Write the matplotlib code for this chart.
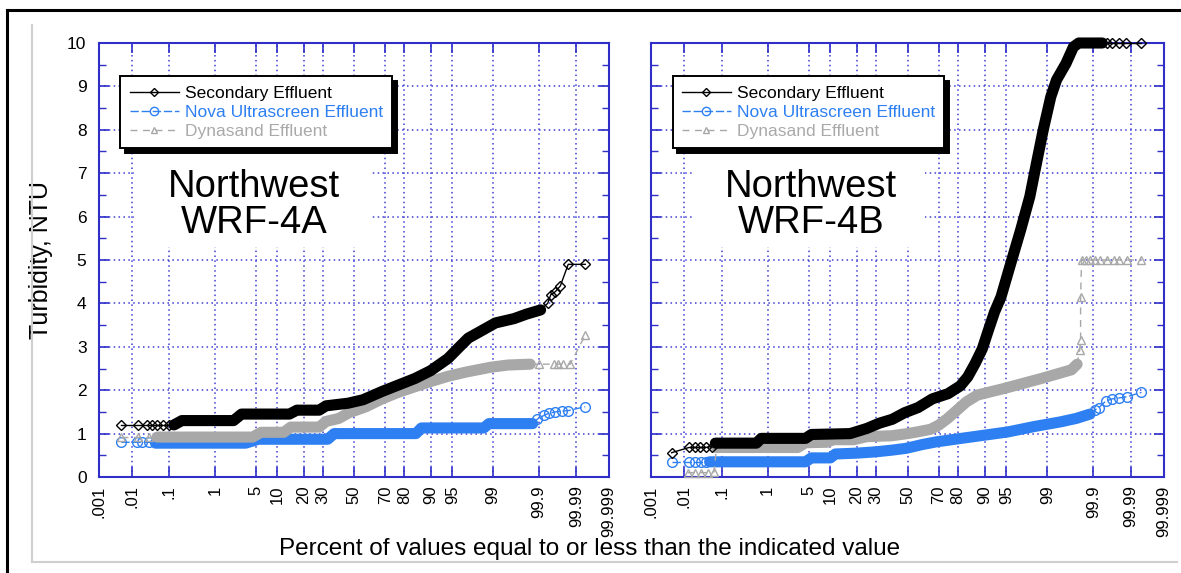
import math
import numpy as np
import matplotlib
matplotlib.use("Agg")
import matplotlib.pyplot as plt
from matplotlib.lines import Line2D
from matplotlib.patches import Rectangle
from matplotlib.ticker import FixedLocator, MultipleLocator, NullLocator

plt.rcParams['font.family'] = ['Liberation Sans', 'DejaVu Sans']

# ---------------- data (percent of values <= value, turbidity NTU) ----------------
x_ticks = [0.001, 0.01, 0.1, 1, 5, 10, 20, 30, 50, 70, 80, 90, 95, 99, 99.9, 99.99, 99.999]
x_tick_labels = [".001", ".01", ".1", "1", "5", "10", "20", "30", "50", "70", "80",
                 "90", "95", "99", "99.9", "99.99", "99.999"]
y_ticks = [0, 1, 2, 3, 4, 5, 6, 7, 8, 9, 10]
series_names = ["Secondary Effluent", "Nova Ultrascreen Effluent", "Dynasand Effluent"]
panel_titles = [("Northwest", "WRF-4A"), ("Northwest", "WRF-4B")]

# Panel A (WRF-4A)
A_sec_pct = [0.005, 0.015, 0.026, 0.036, 0.05, 0.07, 0.1,
             0.13, 0.2, 2.2, 3.0, 14, 17, 28, 32, 46, 56, 68, 76, 84.6, 90, 94.2, 96,
             97.2, 98.3, 99.1, 99.63, 99.8, 99.91,
             99.94, 99.95, 99.962, 99.972, 99.983, 99.9945]
A_sec_ntu = [1.2, 1.2, 1.2, 1.2, 1.2, 1.2, 1.2,
             1.2, 1.3, 1.3, 1.45, 1.45, 1.54, 1.54, 1.64, 1.7, 1.78, 1.97, 2.1, 2.27, 2.45,
             2.73, 2.98, 3.2, 3.36, 3.55, 3.65, 3.75, 3.85,
             4.0, 4.2, 4.27, 4.4, 4.9, 4.9]

A_nova_pct = [0.005, 0.014, 0.02, 0.03,
              0.045, 3.5, 5.5, 33, 37, 85, 87, 98.5, 98.8, 99.86,
              99.89, 99.926, 99.944, 99.962, 99.975, 99.983, 99.9945]
A_nova_ntu = [0.8, 0.8, 0.8, 0.8,
              0.78, 0.78, 0.87, 0.87, 1.0, 1.0, 1.13, 1.13, 1.23, 1.23,
              1.33, 1.42, 1.47, 1.5, 1.52, 1.53, 1.62]

A_dyn_pct = [0.005, 0.015, 0.03,
             0.05, 4.5, 6, 12, 14.5, 28, 32, 40, 46.6, 58, 68, 77, 84.6, 90, 94.2, 97,
             98.9, 99.5, 99.84,
             99.9, 99.958, 99.968, 99.977, 99.985, 99.9945]
A_dyn_ntu = [0.92, 0.92, 0.92,
             0.92, 0.92, 1.03, 1.03, 1.15, 1.15, 1.28, 1.35, 1.48, 1.62, 1.8, 1.95, 2.08,
             2.2, 2.32, 2.42, 2.53, 2.58, 2.6,
             2.6, 2.6, 2.6, 2.6, 2.6, 3.27]

# Panel B (WRF-4B)
B_sec_pct = [0.0044, 0.014, 0.02, 0.028, 0.04, 0.056,
             0.07, 0.6, 0.75, 4.5, 5.5, 17, 25, 32, 40, 48, 57, 66, 75, 81, 84.2, 87,
             89.3, 91.1, 92.6, 94, 95.7, 97, 97.9, 98.4, 98.8, 99.14, 99.34, 99.58,
             99.71, 99.78, 99.94,
             99.955, 99.967, 99.978, 99.986, 99.995]
B_sec_ntu = [0.56, 0.68, 0.68, 0.68, 0.68, 0.7,
             0.78, 0.78, 0.89, 0.89, 0.98, 1.0, 1.12, 1.24, 1.33, 1.48, 1.6, 1.8, 1.92,
             2.1, 2.31, 2.62, 2.95, 3.39, 3.8, 4.15, 4.92, 5.69, 6.46, 7.23, 8.0, 8.76,
             9.15, 9.53, 9.91, 10.0, 10.0,
             10.0, 10.0, 10.0, 10.0, 10.0]

B_nova_pct = [0.0044, 0.014, 0.02, 0.03, 0.04,
              0.05, 4.5, 5.5, 10, 11.5, 20, 30, 40, 49, 60, 68.5, 80, 86.5, 95.3, 98.2,
              99.45, 99.75, 99.88,
              99.91, 99.927, 99.951, 99.967, 99.978, 99.987, 99.995]
B_nova_ntu = [0.35, 0.35, 0.35, 0.35, 0.35,
              0.35, 0.35, 0.44, 0.44, 0.53, 0.55, 0.58, 0.62, 0.66, 0.75, 0.81, 0.88,
              0.93, 1.04, 1.16, 1.27, 1.35, 1.45,
              1.55, 1.6, 1.75, 1.8, 1.82, 1.85, 1.95]

B_dyn_pct = [0.013, 0.02, 0.03, 0.045, 0.065,
             0.075, 3.4, 4.5, 9, 11, 18.6, 25, 39.4, 50, 56.6, 65, 70, 74.8, 80.4, 83.6,
             87.8, 94.6, 98.7, 99.68, 99.76,
             99.79, 99.8, 99.8, 99.81, 99.85, 99.88, 99.91, 99.93, 99.955, 99.97, 99.978,
             99.987, 99.995]
B_dyn_ntu = [0.1, 0.1, 0.1, 0.1, 0.12,
             0.68, 0.68, 0.79, 0.8, 0.86, 0.86, 0.93, 0.95, 1.0, 1.04, 1.1, 1.2, 1.35,
             1.58, 1.73, 1.89, 2.04, 2.27, 2.47, 2.6,
             2.93, 3.16, 4.15, 5.0, 5.0, 5.0, 5.0, 5.0, 5.0, 5.0, 5.0, 5.0, 5.0]

# number of individually visible markers at the start / end of each series
A_counts = {"sec": (7, 6), "nova": (4, 7), "dyn": (3, 6)}
B_counts = {"sec": (6, 5), "nova": (5, 7), "dyn": (5, 13)}

# ---------------- normal probability scale ----------------
_erf = np.vectorize(math.erf, otypes=[float])
_zgrid = np.linspace(-7.0, 7.0, 20001)
_cdf = 0.5 * (1.0 + _erf(_zgrid / math.sqrt(2.0)))


def pct_to_z(p):
    return np.interp(np.asarray(p, float) / 100.0, _cdf, _zgrid)


def z_to_pct(z):
    return 100.0 * 0.5 * (1.0 + _erf(np.asarray(z, float) / math.sqrt(2.0)))


# ---------------- styles ----------------
SPINE = '#2f2fc8'
GRID = '#3d3dd6'
styles = {
    "sec": dict(color='#000000', marker='D', ms=5, ls='-', z=5),
    "nova": dict(color='#2e80f2', marker='o', ms=7, ls=(0, (6, 2)), z=3),
    "dyn": dict(color='#a8a8a8', marker='^', ms=6, ls=(0, (5, 4)), z=4),
}
legend_text_colors = ['#000000', '#2e80f2', '#aaaaaa']


def draw_series(ax, pct, ntu, counts, st):
    pct = np.asarray(pct, float)
    ntu = np.asarray(ntu, float)
    n_head, n_tail = counts
    n = len(pct)
    c = st['color']
    ax.plot(pct[:n_head + 1], ntu[:n_head + 1], color=c, lw=1.0, ls=st['ls'],
            marker=st['marker'], ms=st['ms'], mfc='none', mec=c, mew=1.0,
            markevery=list(range(n_head)), zorder=st['z'], clip_on=False)
    ax.plot(pct[n_head:n - n_tail], ntu[n_head:n - n_tail], color=c, lw=8,
            solid_capstyle='round', solid_joinstyle='round', zorder=st['z'], clip_on=False)
    ax.plot(pct[n - n_tail - 1:], ntu[n - n_tail - 1:], color=c, lw=1.0, ls=st['ls'],
            marker=st['marker'], ms=st['ms'], mfc='none', mec=c, mew=1.0,
            markevery=list(range(1, n_tail + 1)), zorder=st['z'], clip_on=False)


W, H = 1181, 573
fig = plt.figure(figsize=(W / 100, H / 100), dpi=100)
fig.patch.set_facecolor('white')

fig.add_artist(Line2D([7 / W, 7 / W], [0, 1 - 10 / H], color='black', lw=2.2,
                      transform=fig.transFigure))
fig.add_artist(Line2D([7 / W, 1], [1 - 10 / H, 1 - 10 / H], color='black', lw=2.2,
                      transform=fig.transFigure))
fig.add_artist(Line2D([32 / W, 32 / W], [1 - 25 / H, 1 - 562 / H], color='#cfcfcf', lw=1.5,
                      transform=fig.transFigure))
fig.add_artist(Line2D([32 / W, 1177 / W], [1 - 562 / H, 1 - 562 / H], color='#cfcfcf', lw=1.5,
                      transform=fig.transFigure))

panels = [
    dict(left=99, right=609, data=dict(sec=(A_sec_pct, A_sec_ntu), nova=(A_nova_pct, A_nova_ntu),
                                       dyn=(A_dyn_pct, A_dyn_ntu)),
         counts=A_counts, title=panel_titles[0], tx=0.304, box=(0.069, 0.530, 0.464, 0.223)),
    dict(left=651, right=1164, data=dict(sec=(B_sec_pct, B_sec_ntu), nova=(B_nova_pct, B_nova_ntu),
                                         dyn=(B_dyn_pct, B_dyn_ntu)),
         counts=B_counts, title=panel_titles[1], tx=0.312, box=(0.080, 0.530, 0.455, 0.223)),
]

top, bottom = 43, 477
for i, p in enumerate(panels):
    ax = fig.add_axes([p['left'] / W, 1 - bottom / H, (p['right'] - p['left']) / W,
                       (bottom - top) / H])
    ax.set_xscale('function', functions=(pct_to_z, z_to_pct))
    ax.set_xlim(0.001, 99.999)
    ax.set_ylim(0, 10)
    ax.xaxis.set_major_locator(FixedLocator(x_ticks))
    ax.xaxis.set_minor_locator(NullLocator())
    ax.set_xticklabels(x_tick_labels, rotation=90, fontsize=12)
    ax.yaxis.set_major_locator(FixedLocator(y_ticks))
    ax.yaxis.set_minor_locator(MultipleLocator(0.5))
    ax.set_axisbelow(True)
    ax.grid(True, which='major', color=GRID, lw=1.1, ls=(0, (1, 2.2)))
    for s in ax.spines.values():
        s.set_color(SPINE)
        s.set_linewidth(1.5)
    ax.tick_params(axis='both', which='both', direction='in', color=SPINE, top=True, right=True)
    ax.tick_params(axis='both', which='major', length=7, width=1.2)
    ax.tick_params(axis='y', which='minor', length=5, width=1.0)
    ax.tick_params(axis='x', which='major', pad=6)
    ax.tick_params(axis='y', which='major', labelsize=12.5, pad=9)
    if i == 0:
        ax.set_ylabel("Turbidity, NTU", fontsize=18, labelpad=10)
    else:
        ax.tick_params(axis='y', labelleft=False)

    bx, by, bw, bh = p['box']
    ax.add_patch(Rectangle((bx, by), bw, bh, transform=ax.transAxes, facecolor='white',
                           edgecolor='none', zorder=1))
    ax.text(p['tx'], 0.645, p['title'][0], transform=ax.transAxes, fontsize=27.5,
            ha='center', va='baseline', zorder=2)
    ax.text(p['tx'], 0.562, p['title'][1], transform=ax.transAxes, fontsize=27.5,
            ha='center', va='baseline', zorder=2)

    for key in ["nova", "dyn", "sec"]:
        pct, ntu = p['data'][key]
        draw_series(ax, pct, ntu, p['counts'][key], styles[key])

    handles = [Line2D([], [], color=styles[k]['color'], lw=1.0, ls=styles[k]['ls'],
                      marker=styles[k]['marker'], ms=styles[k]['ms'] - 1, mfc='none',
                      mec=styles[k]['color']) for k in ["sec", "nova", "dyn"]]
    leg = ax.legend(handles, series_names, loc='upper left', bbox_to_anchor=(0.042, 0.924),
                    fontsize=12.5, frameon=True, fancybox=False, edgecolor='black',
                    framealpha=1, borderpad=0.55, labelspacing=0.22, handlelength=2.8,
                    handletextpad=0.35, borderaxespad=0,
                    shadow={'color': 'black', 'alpha': 1, 'ox': 3.5, 'oy': -3.5})
    leg.get_frame().set_linewidth(1.4)
    leg.set_zorder(10)
    for t, c in zip(leg.get_texts(), legend_text_colors):
        t.set_color(c)

fig.text(589.5 / W, 1 - 549 / H, "Percent of values equal to or less than the indicated value",
         fontsize=17.5, ha='center', va='center')

fig.savefig("out.png", dpi=100, facecolor='white')
